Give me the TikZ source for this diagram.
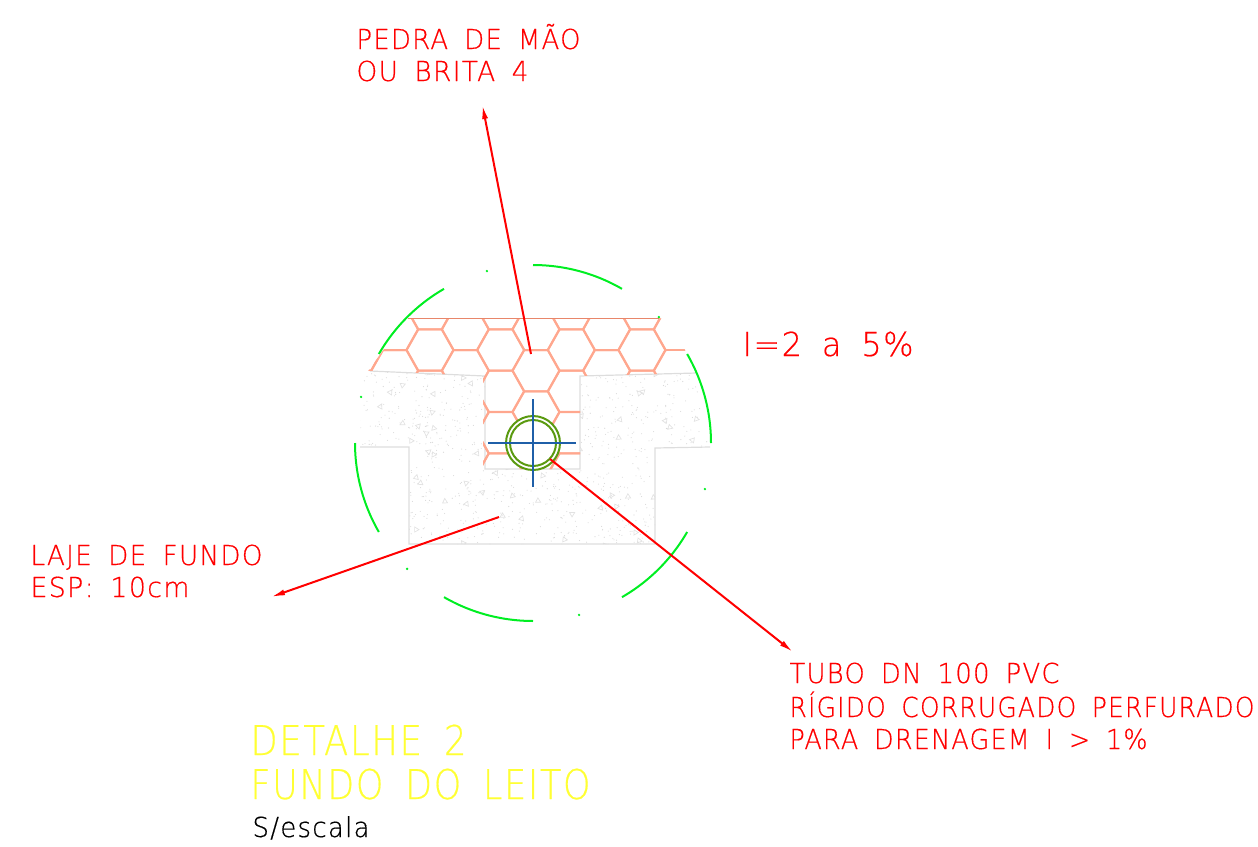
\documentclass[tikz,border=0pt]{standalone}
\usepackage{fontspec}
\usetikzlibrary{arrows.meta}
\newfontfamily\cadfont[LetterSpace=5,WordSpace=1.7,FakeBold=0.5]{DejaVu Sans ExtraLight}
\newcommand{\cadtxt}[3]{\fontsize{#1}{#1}\cadfont\resizebox{#2pt}{\height}{#3}}
\definecolor{hexc}{HTML}{FFA78E}
\definecolor{topc}{HTML}{E8866A}
\definecolor{grn}{HTML}{00EE22}
\definecolor{pipec}{HTML}{5A9A10}
\definecolor{crossc}{HTML}{1F5FA8}
\definecolor{concr}{HTML}{DDDDDD}
\definecolor{stip}{HTML}{D8D8D8}
\definecolor{tri}{HTML}{E2E2E2}
\definecolor{yel}{HTML}{FFFF33}
\tikzset{
 lbl/.style={anchor=base west,inner sep=0pt,outer sep=0pt},
 redt/.style={lbl,text=red},
 yelt/.style={lbl,text=yel},
 leader/.style={red,line width=2pt,-{Latex[length=14pt,width=6pt]}},
 greenarc/.style={grn,line width=2pt},
 hexline/.style={hexc,line width=2pt},
 concline/.style={concr,line width=1.2pt},
 pipe/.style={pipec,line width=1.5pt},
 crossl/.style={crossc,line width=1.6pt}
}
\begin{document}
\begin{tikzpicture}[x=1pt,y=-1pt]
\useasboundingbox (0,0) rectangle (1258,846);
% concrete stipple
\begin{scope}
\clip (362,371) -- (485,376) -- (485,469) -- (580,469) -- (580,376) -- (697,373) -- (710,447) -- (655,448) -- (655,544) -- (409,544) -- (409,447) -- (360,447) -- cycle;
\pgfmathsetseed{9173}
\foreach \n in {1,...,1100}{
  \pgfmathsetmacro{\px}{360+rnd*350}
  \pgfmathsetmacro{\py}{370+rnd*176}
  \fill[stip] (\px,\py) circle (0.55pt);
}
\foreach \n in {1,...,85}{
  \pgfmathsetmacro{\px}{360+rnd*350}
  \pgfmathsetmacro{\py}{370+rnd*176}
  \pgfmathsetmacro{\pa}{rnd*360}
  \draw[tri,line width=0.7pt,rotate around={\pa:(\px,\py)}] (\px-2.5,\py+2) -- (\px+2.5,\py+2) -- (\px,\py-2.5) -- cycle;
}
\end{scope}
% concrete outline
\draw[concline] (370,371) -- (485,376) -- (485,469) -- (580,469) -- (580,376) -- (697,373);
\draw[concline] (360,447) -- (409,447) -- (409,544) -- (655,544) -- (655,448) -- (710,447);
% stone hexagons
\begin{scope}
\clip (406.7,318.3) -- (661.7,318.3) -- (685,350) -- (685,350.8) -- (666.7,350.8) -- (656.7,374) -- (580,376) -- (580,469) -- (483,469) -- (483,376) -- (368.3,370.7) -- cycle;
\foreach \k in {-3,...,9}{
  \pgfmathsetmacro{\cx}{430+35.33*\k}
  \pgfmathsetmacro{\off}{ifthenelse(mod(\k+6,2)==1,20.67,0)}
  \foreach \j in {-1,...,3}{
    \pgfmathsetmacro{\cy}{350+\off+41.33*\j}
    \draw[hexline,line join=round] (\cx-23.33,\cy) -- (\cx-11.67,\cy-20.67) -- (\cx+11.67,\cy-20.67) -- (\cx+23.33,\cy) -- (\cx+11.67,\cy+20.67) -- (\cx-11.67,\cy+20.67) -- cycle;
  }
}
\end{scope}
\draw[topc,line width=1.6pt] (408,318.5) -- (659,318.5);
% green dashed circle
\foreach \a/\b in {60/90,120/150,0/30,180/210,240/270,300/330}{
  \draw[greenarc] plot[variable=\t,domain=\a:\b,samples=24] ({533+178*cos(\t)},{443-178*sin(\t)});
}
\foreach \a in {105,45,165,-15,225,285}{
  \fill[grn] ({533+178*cos(\a)},{443-178*sin(\a)}) circle (1.3pt);
}
% pipe
\node[circle,draw=pipec,line width=2pt,fill=white,minimum size=54pt,inner sep=0pt] (pipeouter) at (533,443) {};
\node[circle,draw=pipec,line width=2pt,minimum size=46pt,inner sep=0pt] (pipeinner) at (533,443) {};
\coordinate (crossW) at (488,443);
\coordinate (crossE) at (576,443);
\coordinate (crossN) at (533,399);
\coordinate (crossS) at (533,487);
\draw[crossl] (crossW) -- (crossE);
\draw[crossl] (crossN) -- (crossS);
% text
\node[redt] (t1) at (356.5,49) {\cadtxt{27.5}{224}{PEDRA DE MÃO}};
\node[redt] (t2) at (356.5,81) {\cadtxt{27.5}{172}{OU BRITA 4}};
\node[redt] (t3) at (742.5,356) {\cadtxt{33}{171}{I=2 a 5\%}};
\node[redt] (t4) at (30.5,565) {\cadtxt{27.5}{232}{LAJE DE FUNDO}};
\node[redt] (t5) at (30.5,597) {\cadtxt{27.5}{159}{ESP: 10cm}};
\node[redt] (t6) at (789.5,683) {\cadtxt{27.5}{270}{TUBO DN 100 PVC}};
\node[redt] (t7) at (789.5,717) {\cadtxt{27.5}{465}{RÍGIDO CORRUGADO PERFURADO}};
\node[redt] (t8) at (789.5,749) {\cadtxt{27.5}{358}{PARA DRENAGEM I > 1\%}};
\node[yelt] (t9) at (250.5,755) {\cadtxt{41}{216}{DETALHE 2}};
\node[yelt] (t10) at (250.5,799) {\cadtxt{41}{340}{FUNDO DO LEITO}};
\node[lbl,text=black] (t11) at (252.5,837) {\cadtxt{27.5}{117}{S/escala}};
% leaders
\coordinate (l1a) at (531,354);
\coordinate (l1b) at (482.4,105);
\coordinate (l2a) at (499,517);
\coordinate (l2b) at (271,597);
\coordinate (l3a) at (550,459);
\coordinate (l3b) at (793,652);
\draw[leader] (l1a) -- (l1b);
\draw[leader] (l2a) -- (l2b);
\draw[leader] (l3a) -- (l3b);
\end{tikzpicture}
\end{document}
